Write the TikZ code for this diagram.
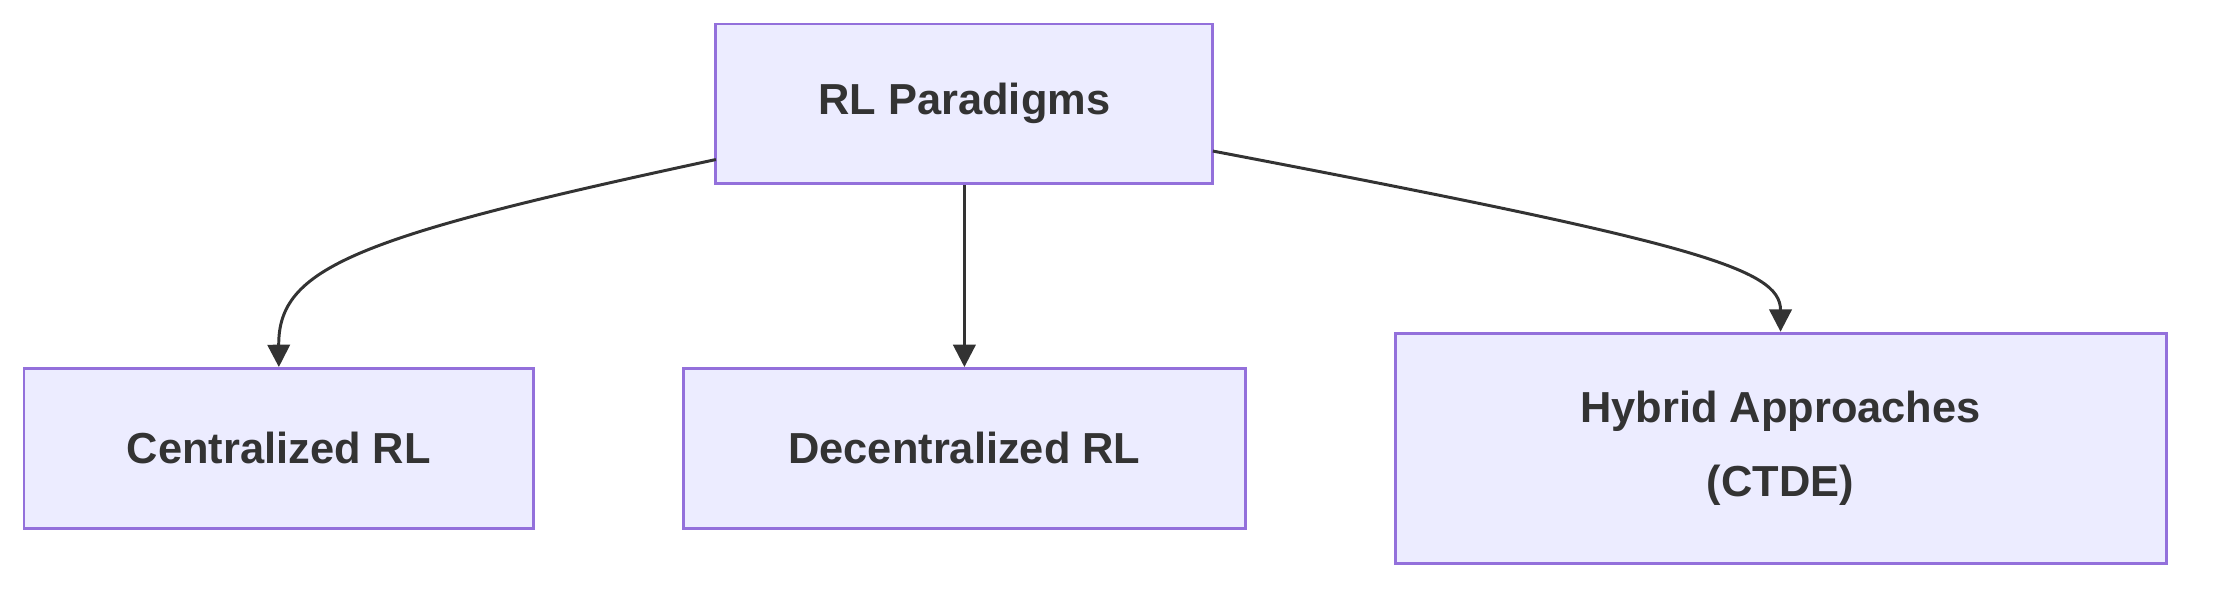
\documentclass[tikz,border=0pt]{standalone}
\usepackage{fontspec}
\setmainfont{Liberation Sans}
\usetikzlibrary{arrows.meta}
\definecolor{boxfill}{HTML}{ECECFF}
\definecolor{boxline}{HTML}{9370DB}
\definecolor{ink}{HTML}{333333}
\begin{document}
\begin{tikzpicture}[x=0.02cm,y=-0.02cm,
  box/.style={draw=boxline,fill=boxfill,line width=1.2pt,text=ink,
    font=\fontsize{17.5}{30}\selectfont\bfseries,align=center,inner sep=0pt},
  link/.style={draw=ink,line width=1.2pt,-{Triangle[length=9pt,width=9pt]}}]
\useasboundingbox (0,0) rectangle (1568,421);
\node [box,minimum width=352*0.02cm,minimum height=113*0.02cm] (root) at (683,73.5) {RL Paradigms};
\node [box,minimum width=361*0.02cm,minimum height=113*0.02cm] (cen) at (197.5,317.5) {Centralized RL};
\node [box,minimum width=398*0.02cm,minimum height=113*0.02cm] (dec) at (683,317.5) {Decentralized RL};
\node [box,minimum width=546*0.02cm,minimum height=163*0.02cm] (hyb) at (1261,317.5) {Hybrid Approaches\\(CTDE)};
\coordinate (rl) at (507,113);
\coordinate (rr) at (859,107);
\draw [link] (rl) .. controls (250,168) and (197,190) .. (cen.north);
\draw [link] (root) -- (dec);
\draw [link] (rr) .. controls (1200,172) and (1261,190) .. (hyb.north);
\end{tikzpicture}
\end{document}
